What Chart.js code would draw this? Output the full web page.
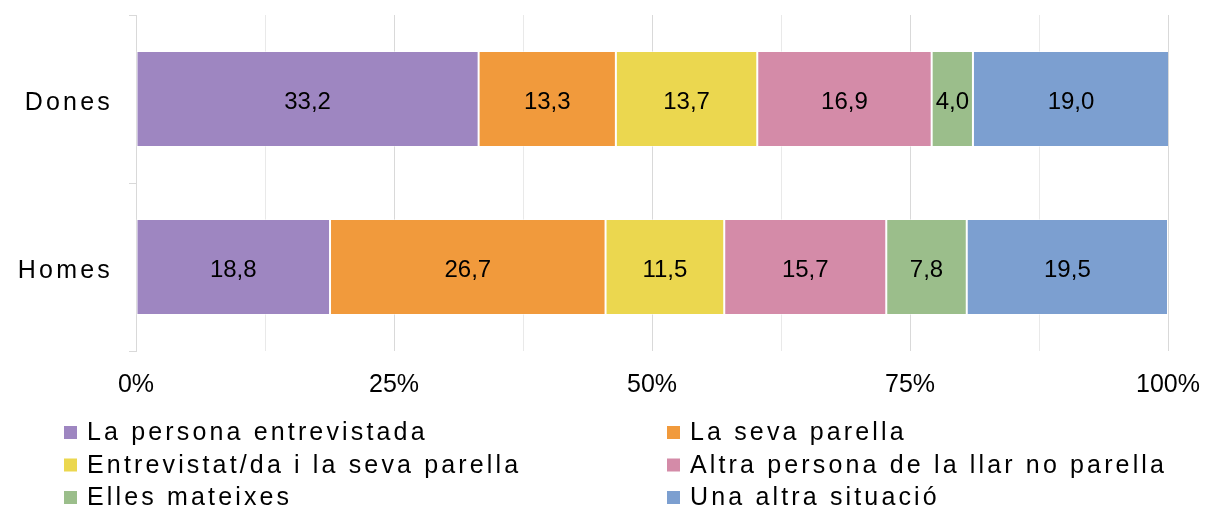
<!DOCTYPE html>
<html>
<head>
<meta charset="utf-8">
<script src="https://cdn.jsdelivr.net/npm/chart.js@4/dist/chart.umd.min.js"></script>
<style>
  html, body { margin: 0; padding: 0; background: #fff; }
  #wrap { width: 1208px; height: 510px; }
</style>
</head>
<body>
<div id="wrap"><canvas id="chart" width="1208" height="510"></canvas></div>
<script>
const categories = ['Dones', 'Homes'];
const seriesNames = [
  'La persona entrevistada',
  'La seva parella',
  'Entrevistat/da i la seva parella',
  'Altra persona de la llar no parella',
  'Elles mateixes',
  'Una altra situació'
];
const entrevistada = [33.2, 18.8];
const parella = [13.3, 26.7];
const entrevistatParella = [13.7, 11.5];
const altraPersona = [16.9, 15.7];
const ellesMateixes = [4.0, 7.8];
const altraSituacio = [19.0, 19.5];
const tickValues = [0, 25, 50, 75, 100];

const seriesValues = [entrevistada, parella, entrevistatParella, altraPersona, ellesMateixes, altraSituacio];
const seriesColors = ['#9e86c1', '#f19a3c', '#ebd74f', '#d48ba8', '#9bbe8b', '#7c9fd0'];

const FONT = '"Liberation Sans", Arial, sans-serif';

// bar value labels + letter spacing switches
const labelsPlugin = {
  id: 'valueLabels',
  beforeDraw(chart) {
    chart.ctx.letterSpacing = '0px';
  },
  afterDatasetsDraw(chart) {
    const ctx = chart.ctx;
    ctx.save();
    ctx.letterSpacing = '0px';
    ctx.font = '24px ' + FONT;
    ctx.fillStyle = '#000';
    ctx.textAlign = 'center';
    ctx.textBaseline = 'middle';
    chart.data.datasets.forEach((ds, i) => {
      chart.getDatasetMeta(i).data.forEach((bar, j) => {
        const c = bar.getCenterPoint();
        ctx.fillText(ds.data[j].toFixed(1).replace('.', ','), c.x, c.y + 3);
      });
    });
    ctx.restore();
    // the category labels are drawn after this, spaced out
    ctx.letterSpacing = '3.2px';
  },
  afterDraw(chart) {
    const ctx = chart.ctx;
    ctx.save();
    ctx.letterSpacing = '3.15px';
    ctx.font = '25px ' + FONT;
    ctx.textBaseline = 'alphabetic';
    ctx.textAlign = 'left';
    const colX = [64, 667];
    const top = 426;
    const rowH = 32.5;
    chart.data.datasets.forEach((ds, i) => {
      const x = colX[i % 2];
      const y = top + Math.floor(i / 2) * rowH;
      ctx.fillStyle = ds.backgroundColor;
      ctx.fillRect(x, y, 13, 13);
      ctx.fillStyle = '#000';
      ctx.fillText(ds.label, x + 23, y + 14);
    });
    ctx.restore();
    ctx.letterSpacing = '0px';
  }
};

new Chart(document.getElementById('chart'), {
  type: 'bar',
  data: {
    labels: categories,
    datasets: seriesNames.map((name, i) => ({
      label: name,
      data: seriesValues[i],
      backgroundColor: seriesColors[i],
      borderColor: 'rgba(255,255,255,0.45)',
      borderWidth: 1,
      borderSkipped: false,
      categoryPercentage: 1,
      barPercentage: 0.57
    }))
  },
  options: {
    indexAxis: 'y',
    responsive: false,
    animation: false,
    events: [],
    layout: { padding: { left: 0, right: 40, top: 15, bottom: 99 } },
    plugins: {
      legend: { display: false },
      tooltip: { enabled: false }
    },
    scales: {
      x: {
        stacked: true,
        min: 0,
        max: 100,
        afterFit(scale) {
          scale.height = 60;
          scale.paddingLeft = 0;
          scale.paddingRight = 0;
        },
        afterBuildTicks(scale) {
          const t = [];
          for (let v = 0; v <= 100; v += 12.5) t.push({ value: v });
          scale.ticks = t;
        },
        ticks: {
          autoSkip: false,
          maxRotation: 0,
          padding: 19,
          color: '#000',
          font: { family: FONT, size: 25 },
          callback: (v) => tickValues.includes(v) ? v + '%' : ''
        },
        grid: {
          drawTicks: false,
          lineWidth: 1,
          color: (c) => (c.tick && tickValues.includes(c.tick.value)) ? '#d9d9d9' : '#e9e9e9'
        },
        border: { display: false }
      },
      y: {
        stacked: true,
        offset: true,
        afterFit(scale) {
          scale.width = 136;
          scale.paddingTop = 0;
          scale.paddingBottom = 0;
        },
        ticks: {
          z: 1,
          padding: 16,
          labelOffset: 4,
          color: '#000',
          font: { family: FONT, size: 25 }
        },
        grid: {
          drawOnChartArea: false,
          tickLength: 7,
          color: '#d9d9d9'
        },
        border: { color: '#d9d9d9', width: 1 }
      }
    }
  },
  plugins: [labelsPlugin]
});
</script>
</body>
</html>
